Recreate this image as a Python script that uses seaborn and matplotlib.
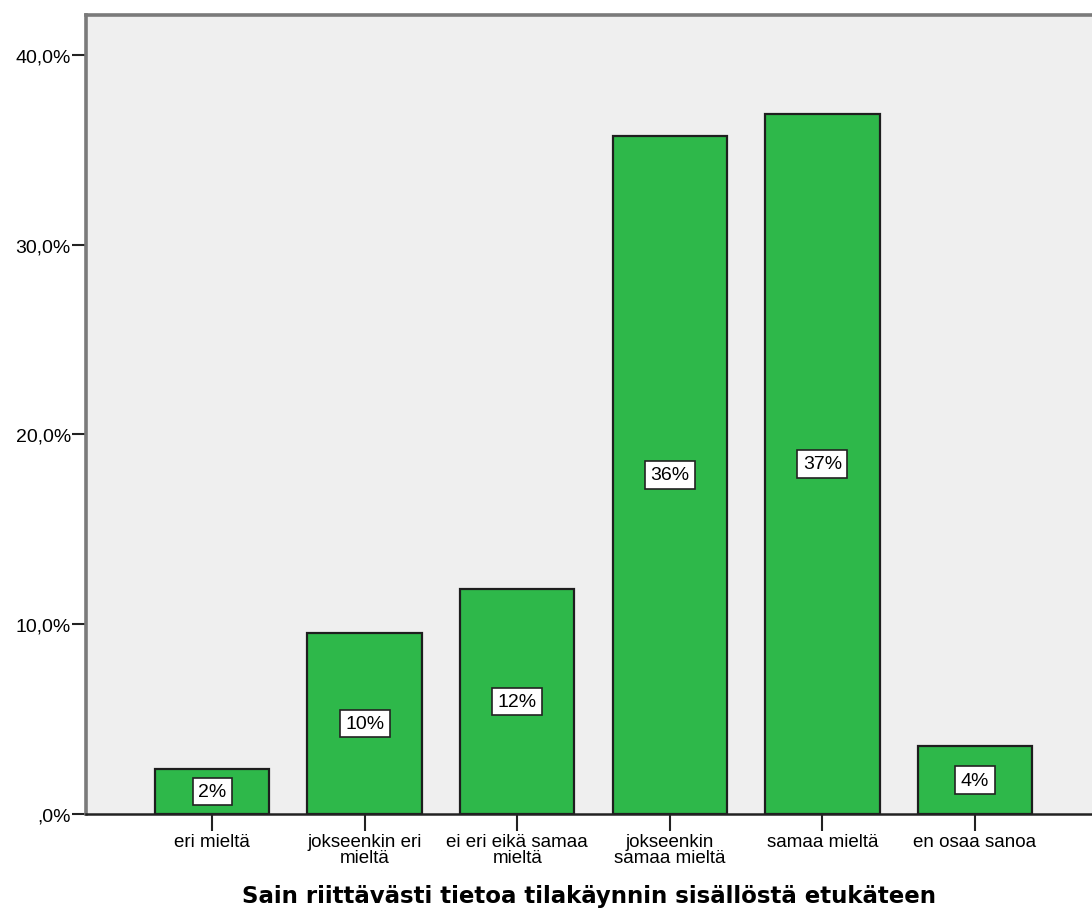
import matplotlib
matplotlib.use("Agg")
import matplotlib.pyplot as plt
from matplotlib.ticker import FuncFormatter
import seaborn as sns
import pandas as pd

categories = [
    "eri mieltä",
    "jokseenkin eri\nmieltä",
    "ei eri eikä samaa\nmieltä",
    "jokseenkin\nsamaa mieltä",
    "samaa mieltä",
    "en osaa sanoa",
]
percent = [2.37, 9.54, 11.86, 35.73, 36.89, 3.58]
y_ticks = [0, 10, 20, 30, 40]
title = "Sain riittävästi tietoa tilakäynnin sisällöstä etukäteen"

df = pd.DataFrame({"vastaus": categories, "osuus": percent})

sns.set_theme(style="white")
plt.rcParams["font.family"] = ["Liberation Sans", "DejaVu Sans"]
plt.rcParams["text.color"] = "black"
plt.rcParams["xtick.labelcolor"] = "black"
plt.rcParams["ytick.labelcolor"] = "black"

fig = plt.figure(figsize=(10.92, 9.2), dpi=100)
ax = fig.add_axes([0.0788, 0.1141, 0.9212, 0.8685])
ax.set_facecolor("#EFEFEF")

sns.barplot(data=df, x="vastaus", y="osuus", color="#2EB84A", saturation=1,
            width=0.75, edgecolor="#1E1E1E", linewidth=1.6, ax=ax)

ax.set_xlim(-0.826, 5.767)
ax.set_ylim(0, 42.1)


def spss_percent(v, _pos):
    s = f"{v:.1f}%".replace(".", ",")
    return s[1:] if s.startswith("0,") else s


ax.set_yticks(y_ticks)
ax.yaxis.set_major_formatter(FuncFormatter(spss_percent))
ax.tick_params(axis="y", length=10, width=1.5, color="#222222", labelsize=14,
               pad=1, left=True)
ax.tick_params(axis="x", length=12, width=1.5, color="#222222", labelsize=13.5,
               pad=2, bottom=True)
for lbl in ax.get_xticklabels():
    lbl.set_linespacing(0.85)

for side in ("left", "top"):
    ax.spines[side].set_color("#7A7A7A")
    ax.spines[side].set_linewidth(2.6)
ax.spines["bottom"].set_color("#222222")
ax.spines["bottom"].set_linewidth(1.8)
ax.spines["right"].set_visible(False)

ax.bar_label(ax.containers[0], labels=[f"{v:.0f}%" for v in percent],
             label_type="center", fontsize=14, color="black",
             bbox=dict(boxstyle="square,pad=0.28", facecolor="white",
                       edgecolor="#222222", linewidth=1.2))

ax.set_ylabel("")
ax.set_xlabel(title, fontsize=16.5, fontweight="bold", family="DejaVu Sans",
              color="black", labelpad=13)

fig.savefig("out.png", dpi=100)
